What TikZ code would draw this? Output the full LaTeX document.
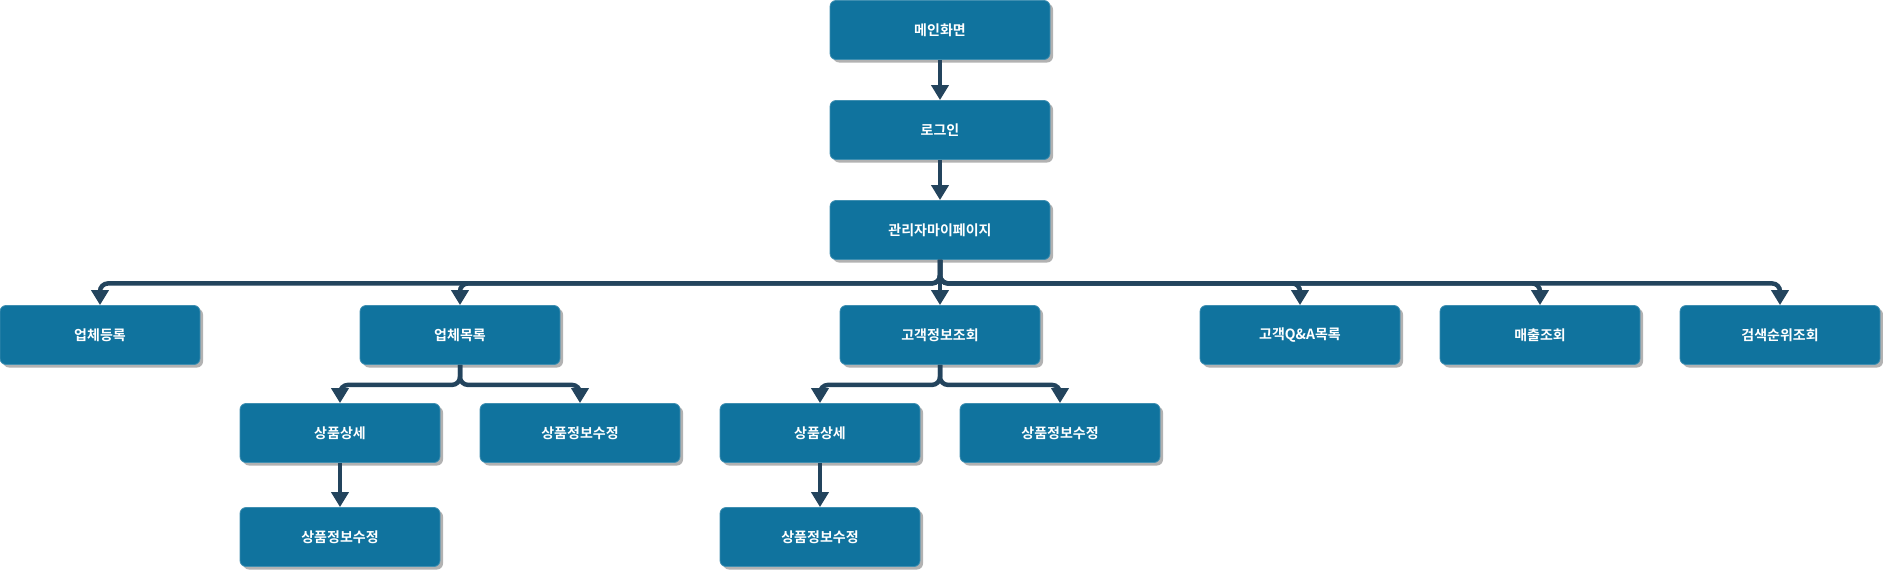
\documentclass[tikz,border=0pt]{standalone}
\usepackage{fontspec}
\setmainfont{Noto Sans CJK KR}[BoldFont={Noto Sans CJK KR Bold}]
\usetikzlibrary{arrows.meta,shadows}
\definecolor{boxblue}{HTML}{10739E}
\definecolor{linknavy}{HTML}{23445D}
\begin{document}
\begin{tikzpicture}[x=1pt, y=-1pt,
    box/.style={rounded corners=6pt, fill=boxblue, draw=boxblue!80!white, line width=0.8pt,
        minimum width=200pt, minimum height=59pt, text=white, inner sep=0pt,
        font=\fontsize{14}{16}\selectfont\bfseries,
        drop shadow={shadow xshift=3pt, shadow yshift=-3pt, fill=black, opacity=0.3}},
    topbox/.style={box, minimum width=220pt},
    link/.style={draw=linknavy, line width=4.5pt, rounded corners=8pt,
        -{Triangle[width=17pt,length=15pt]}}]
    \useasboundingbox (0,0) rectangle (1883,573);

    \node[topbox](main) at (940, 30) {메인화면};
    \node[topbox](login) at (940, 130) {로그인};
    \node[topbox](admin) at (940, 230) {관리자마이페이지};

    \node[box](vreg) at (100, 335) {업체등록};
    \node[box](vlist) at (460, 335) {업체목록};
    \node[box](cinfo) at (940, 335) {고객정보조회};
    \node[box](cqa) at (1300, 335) {고객Q\&A목록};
    \node[box](sales) at (1540, 335) {매출조회};
    \node[box](rank) at (1780, 335) {검색순위조회};

    \node[box](vdet) at (340, 433) {상품상세};
    \node[box](vedit) at (580, 433) {상품정보수정};
    \node[box](cdet) at (820, 433) {상품상세};
    \node[box](cedit) at (1060, 433) {상품정보수정};

    \node[box](vdetedit) at (340, 537) {상품정보수정};
    \node[box](cdetedit) at (820, 537) {상품정보수정};

    \draw [link] (main)--(login);
    \draw [link] (login)--(admin);

    \foreach \child in {vreg, vlist, cqa, sales, rank}
        \draw [link] (admin.south) -- ++(0,23.5) -| (\child.north);
    \draw [link] (admin)--(cinfo);

    \foreach \child in {vdet, vedit}
        \draw [link] (vlist.south) -- ++(0,20) -| (\child.north);
    \foreach \child in {cdet, cedit}
        \draw [link] (cinfo.south) -- ++(0,20) -| (\child.north);

    \draw [link] (vdet)--(vdetedit);
    \draw [link] (cdet)--(cdetedit);
\end{tikzpicture}
\end{document}
